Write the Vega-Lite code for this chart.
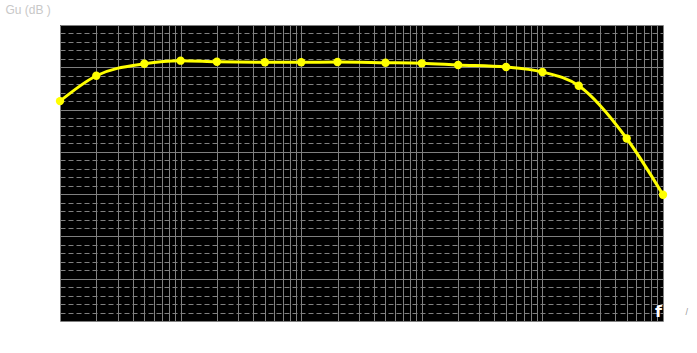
{
  "$schema": "https://vega.github.io/schema/vega-lite/v6.json",
  "width": 603,
  "height": 296,
  "autosize": "none",
  "padding": {"left": 60, "top": 25, "right": 34, "bottom": 32},
  "background": "white",
  "title": {"text": "/", "orient": "bottom", "anchor": "end", "frame": "group", "fontSize": 9, "fontWeight": "normal", "color": "#999", "dx": 25, "dy": -13, "offset": 0},
  "data": {"values": [
    {"f": 10, "g": 26.0},
    {"f": 20, "g": 29.0},
    {"f": 50, "g": 30.42},
    {"f": 100, "g": 30.78},
    {"f": 200, "g": 30.66},
    {"f": 500, "g": 30.6},
    {"f": 1000, "g": 30.6},
    {"f": 2000, "g": 30.62},
    {"f": 5000, "g": 30.54},
    {"f": 10000, "g": 30.47},
    {"f": 20000, "g": 30.27},
    {"f": 50000, "g": 30.03},
    {"f": 100000, "g": 29.44},
    {"f": 200000, "g": 27.82},
    {"f": 500000, "g": 21.58},
    {"f": 1000000, "g": 14.93}
  ]},
  "encoding": {
    "x": {"field": "f", "type": "quantitative",
      "scale": {"type": "log", "domain": [10, 1000000], "nice": false},
      "axis": {"values": [10,20,30,40,50,60,70,80,90,100,200,300,400,500,600,700,800,900,1000,2000,3000,4000,5000,6000,7000,8000,9000,10000,20000,30000,40000,50000,60000,70000,80000,90000,100000,200000,300000,400000,500000,600000,700000,800000,900000,1000000],
        "labels": false, "ticks": false, "domain": false,
        "grid": true, "gridColor": "#808080", "gridWidth": 1, "gridOpacity": 1,
        "title": "f", "titleX": 598, "titleY": -5, "titleAlign": "center", "titleBaseline": "alphabetic",
        "titleFontSize": 16, "titleFontWeight": "bold", "titleColor": "white", "titleFont": "DejaVu Sans"}},
    "y": {"field": "g", "type": "quantitative",
      "scale": {"domain": [0, 35], "nice": false, "zero": false},
      "axis": {"values": [0,1,2,3,4,5,6,7,8,9,10,11,12,13,14,15,16,17,18,19,20,21,22,23,24,25,26,27,28,29,30,31,32,33,34,35],
        "labels": false, "ticks": false, "domain": false,
        "grid": true, "gridColor": "#808080", "gridWidth": 1, "gridOpacity": 1,
        "gridDash": {"condition": {"test": "datum.value % 5 === 0", "value": []}, "value": [5, 3]},
        "title": "Gu  (dB )", "titleAngle": 0, "titleX": -55, "titleY": -12, "titleAlign": "left", "titleBaseline": "alphabetic",
        "titleFontSize": 12, "titleFontWeight": "normal", "titleColor": "#c8c8c8"}}
  },
  "layer": [
    {"mark": {"type": "line", "color": "#ffff00", "strokeWidth": 3, "interpolate": "monotone"}},
    {"mark": {"type": "point", "filled": true, "shape": "circle", "color": "#ffff00", "opacity": 1, "size": 70}}
  ],
  "config": {"view": {"fill": "black", "stroke": null}}
}
